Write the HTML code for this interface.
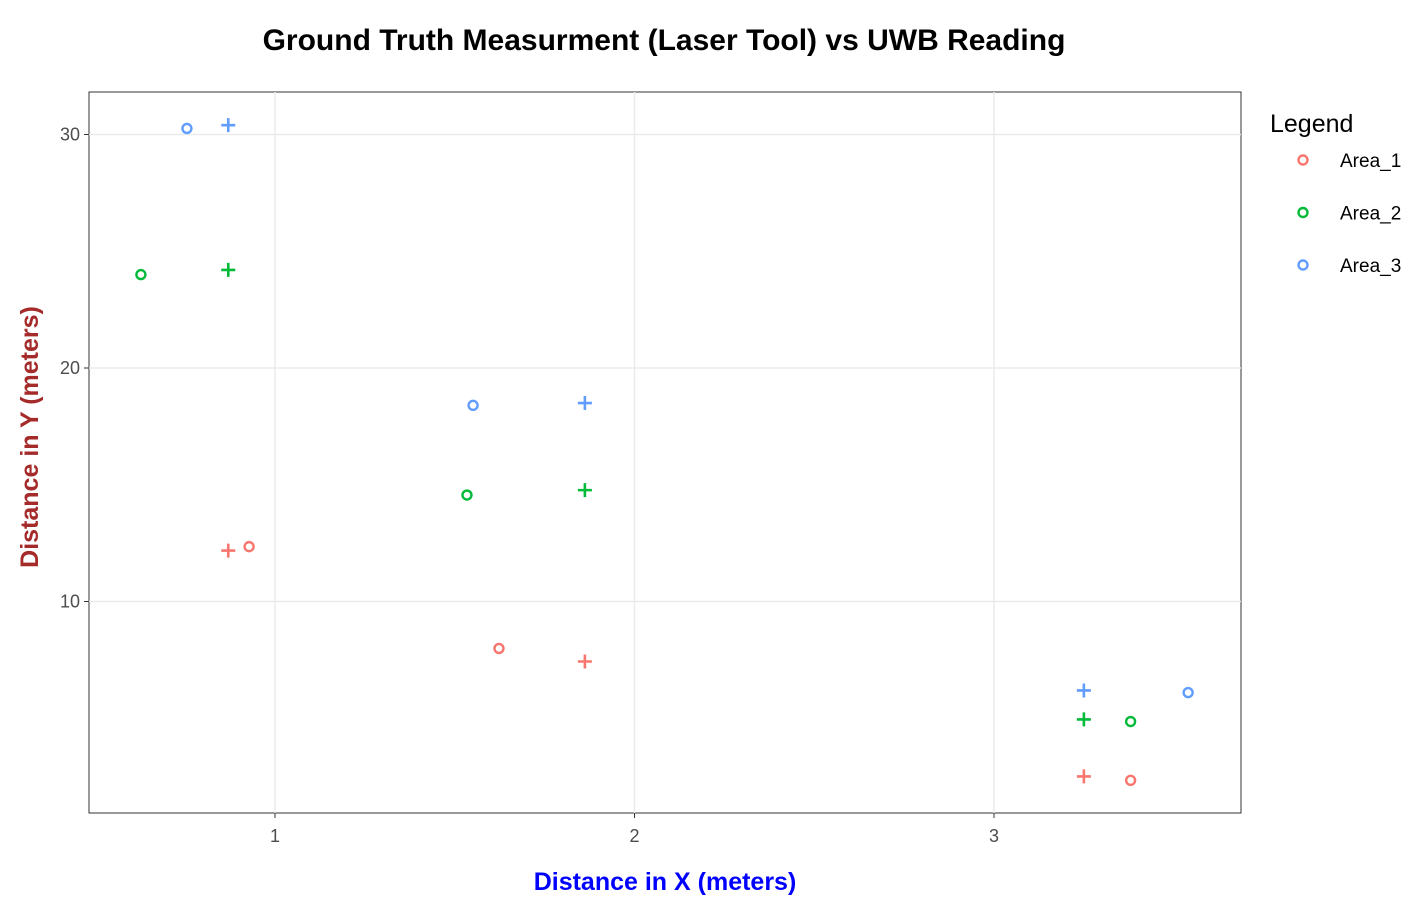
<!DOCTYPE html>
<html><head><meta charset="utf-8"><style>
body{margin:0;background:#fff;width:1424px;height:900px;overflow:hidden;font-family:"Liberation Sans",sans-serif;}
</style></head><body>
<svg id="chart" width="1424" height="900" xmlns="http://www.w3.org/2000/svg">
<text x="664" y="50" text-anchor="middle" font-size="30" font-weight="bold" fill="#000">Ground Truth Measurment (Laser Tool) vs UWB Reading</text>
<rect x="89" y="92" width="1152" height="721" fill="#fff" stroke="#333" stroke-width="1"/>
<g id="grid"></g><g id="marks"></g><g id="axes"></g>
<text x="665" y="890" text-anchor="middle" font-size="25" font-weight="bold" fill="#0000ff">Distance in X (meters)</text>
<text transform="translate(38,437) rotate(-90)" text-anchor="middle" font-size="25" font-weight="bold" fill="#a52a2a">Distance in Y (meters)</text>
<text x="1270" y="132" font-size="25" fill="#000">Legend</text>
<g id="legend"></g>
</svg>
<script>
const xTicks=[1,2,3];
const yTicks=[10,20,30];
const groups=["Area_1","Area_2","Area_3"];
const colors=["#f8766d","#00ba38","#619cff"];
const uwbX=[[0.928,1.623,3.38],[0.627,1.534,3.38],[0.755,1.551,3.54]];
const uwbY=[[12.35,7.99,2.34],[24.0,14.56,4.86],[30.26,18.4,6.1]];
const laserX=[[0.87,1.862,3.25],[0.87,1.862,3.25],[0.87,1.862,3.25]];
const laserY=[[12.18,7.43,2.51],[24.2,14.77,4.95],[30.4,18.5,6.19]];
const ns="http://www.w3.org/2000/svg";
const xs=v=>275+(v-1)*359.5;
const ys=v=>368-(v-20)*23.35;
function mk(t,a,p){const e=document.createElementNS(ns,t);for(const k in a)e.setAttribute(k,a[k]);p.appendChild(e);return e;}
const grid=document.getElementById('grid'),axes=document.getElementById('axes'),marks=document.getElementById('marks'),leg=document.getElementById('legend');
xTicks.forEach(t=>{const x=xs(t);
const l=mk('line',{x1:x,x2:x,y1:92,y2:813,stroke:'#ebebeb','stroke-width':1.5},grid);

mk('line',{x1:x,x2:x,y1:813,y2:818,stroke:'#333'},axes);
const tx=mk('text',{x:x,y:842,'text-anchor':'middle','font-size':18,fill:'#4d4d4d'},axes);tx.textContent=t;
});
yTicks.forEach(t=>{const y=ys(t);
const l=mk('line',{x1:89,x2:1241,y1:y,y2:y,stroke:'#ebebeb','stroke-width':1.5},grid);

mk('line',{x1:84,x2:89,y1:y,y2:y,stroke:'#333'},axes);
const tx=mk('text',{x:80,y:y+6,'text-anchor':'end','font-size':18,fill:'#4d4d4d'},axes);tx.textContent=t;
});
groups.forEach((g,i)=>{
uwbX[i].forEach((v,j)=>{const c=mk('circle',{cx:xs(v),cy:ys(uwbY[i][j]),r:4.5,fill:'none',stroke:colors[i],'stroke-width':2.4},marks);
});
laserX[i].forEach((v,j)=>{const x=xs(v),y=ys(laserY[i][j]);
const p=mk('path',{d:`M${x-7},${y}H${x+7}M${x},${y-7}V${y+7}`,stroke:colors[i],'stroke-width':2.6},marks);
});
const ly=160+i*52.5;
const c=mk('circle',{cx:1303,cy:ly,r:4.5,fill:'none',stroke:colors[i],'stroke-width':2.4},leg);

const t=mk('text',{x:1340,y:ly+7,'font-size':19,fill:'#000'},leg);t.textContent=g;

});
</script>
</body></html>
